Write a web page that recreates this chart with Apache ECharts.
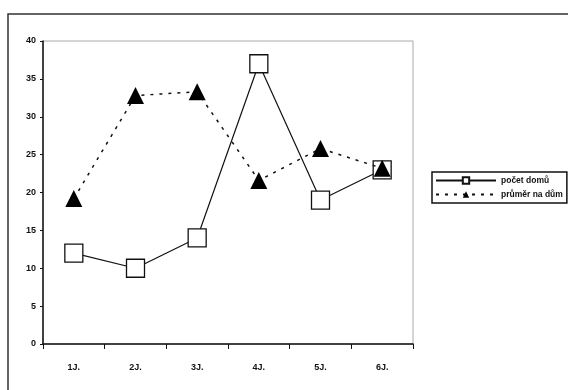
<!DOCTYPE html>
<html>
<head>
<meta charset="utf-8">
<script src="https://cdn.jsdelivr.net/npm/echarts@6/dist/echarts.min.js"></script>
<style>
  html, body { margin: 0; padding: 0; background: #fff; }
  #chart { width: 568px; height: 390px; }
</style>
</head>
<body>
<div id="chart"></div>
<script>
// Categories and series values
const categories = ['1J.', '2J.', '3J.', '4J.', '5J.', '6J.'];
const pocetDomu = [12, 10, 14, 37, 19, 23];
const prumerNaDum = [19.2, 32.8, 33.3, 21.6, 25.8, 23.2];
const yTicks = { min: 0, max: 40, interval: 5 };

const chart = echarts.init(document.getElementById('chart'));
const fontFamily = '"Liberation Sans", Arial, sans-serif';

chart.setOption({
  backgroundColor: '#fff',
  animation: false,
  graphic: [{
    type: 'rect',
    shape: { x: 8, y: 14, width: 580, height: 400 },
    style: { fill: 'none', stroke: '#333', lineWidth: 1.5 },
    silent: true
  }],
  grid: {
    left: 43, top: 41, width: 370, height: 303,
    show: true, borderColor: '#aaa', borderWidth: 1,
    containLabel: false
  },
  legend: {
    left: 432, top: 172,
    orient: 'vertical',
    padding: [4, 4, 4, 3],
    itemGap: 5,
    itemWidth: 60,
    itemHeight: 8,
    borderColor: '#111',
    borderWidth: 1.5,
    textStyle: { fontFamily, fontSize: 8.5, fontWeight: 'bold', color: '#111' },
    data: ['počet domů', 'průměr na dům']
  },
  xAxis: {
    type: 'category',
    data: categories,
    boundaryGap: true,
    axisLine: { lineStyle: { color: '#111', width: 1.5 } },
    axisTick: { show: true, inside: false, length: 5, alignWithLabel: false, lineStyle: { color: '#111' } },
    axisLabel: { fontFamily, fontSize: 9, fontWeight: 'bold', color: '#111', margin: 19 },
    splitLine: { show: false }
  },
  yAxis: {
    type: 'value',
    min: yTicks.min, max: yTicks.max, interval: yTicks.interval,
    axisLine: { show: true, lineStyle: { color: '#111', width: 1.5 } },
    axisTick: { show: true, length: 3, lineStyle: { color: '#111' } },
    axisLabel: { fontFamily, fontSize: 9, fontWeight: 'bold', color: '#111', margin: 7 },
    splitLine: { show: false }
  },
  series: [
    {
      name: 'počet domů',
      type: 'line',
      data: pocetDomu,
      symbol: 'rect',
      symbolSize: 18,
      z: 3,
      lineStyle: { color: '#111', width: 1.2, type: 'solid' },
      itemStyle: { color: '#fff', borderColor: '#111', borderWidth: 1.3 }
    },
    {
      name: 'průměr na dům',
      type: 'line',
      data: prumerNaDum,
      symbol: 'triangle',
      symbolSize: [17, 17],
      z: 4,
      lineStyle: { color: '#111', width: 1.5, type: [3, 6] },
      itemStyle: { color: '#000', borderColor: '#000', borderWidth: 0 }
    }
  ]
});
</script>
</body>
</html>
